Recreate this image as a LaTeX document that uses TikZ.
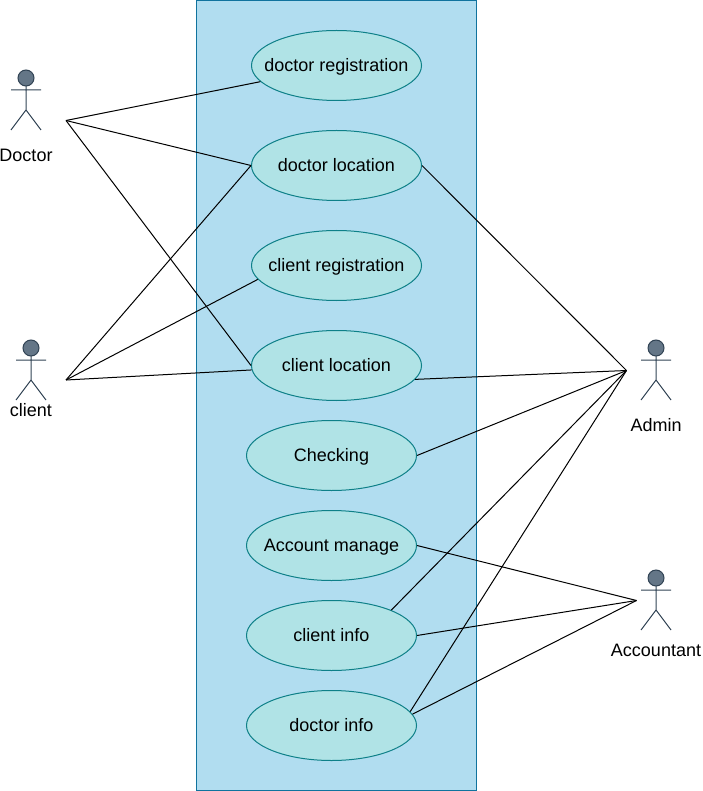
\documentclass[tikz,border=0pt]{standalone}
\usepackage{fontspec}
\setmainfont{Liberation Sans}
\usepackage{xcolor}
\usetikzlibrary{shapes.geometric}
\definecolor{boxfill}{HTML}{B1DDF0}
\definecolor{boxline}{HTML}{10739E}
\definecolor{casefill}{HTML}{B0E3E6}
\definecolor{caseline}{HTML}{0E8088}
\definecolor{actorfill}{HTML}{647687}
\definecolor{actorline}{HTML}{314354}
\tikzset{
  usecase/.style={ellipse,draw=caseline,fill=casefill,line width=0.75pt,
    minimum width=127.5pt,minimum height=52.5pt,inner sep=0pt,text height=11pt,text depth=2.5pt},
  actorlabel/.style={inner sep=0pt},
  actorbody/.style={draw=actorline,line width=0.75pt},
  link/.style={black,line width=0.75pt}
}

\begin{document}
\begin{tikzpicture}[x=0.75pt,y=-0.75pt,font=\fontsize{13.5}{16}\selectfont]
  \useasboundingbox (0,0) rectangle (702,791);
  \filldraw[fill=boxfill,draw=boxline,line width=0.75pt] (196.5,0.5) rectangle (476.5,790.5);
  % use cases
  \foreach \nm/\x/\y/\lab in {docreg/336.5/65.5/doctor registration,docloc/336.5/165.5/doctor location,
      clireg/336.5/265.5/client registration,cliloc/336.5/365.5/client location,
      checking/331.5/455.5/Checking,account/331.5/545.5/Account manage,
      cliinfo/331.5/635.5/client info,docinfo/331.5/725.5/doctor info}{
     \node[usecase] (\nm) at (\x,\y) {\makebox[0pt]{\lab}};
  }
  % actors
  \foreach \nm/\x/\y/\lab/\ly in {doctor/26/70/Doctor/155,client/31/340/client/410,
      admin/656/340/Admin/425,accountant/656/570/Accountant/650}{
     \filldraw[actorbody,fill=actorfill] (\x,\y+8) circle (8);
     \draw[actorbody] (\x,\y+16) -- (\x,\y+40) (\x-15,\y+20) -- (\x+15,\y+20)
        (\x-15,\y+60) -- (\x,\y+40) -- (\x+15,\y+60);
     \node[actorlabel] (\nm) at (\x,\ly) {\lab};
  }
  \coordinate (dochand) at (66,120.5);
  \coordinate (clihand) at (66,380);
  \coordinate (admhand) at (626.5,370.5);
  \coordinate (acchand) at (636.5,600.5);
  % connectors
  \foreach \a/\b in {dochand/docreg.192,dochand/docloc.west,dochand/cliloc.west,
      clihand/docloc.west,clihand/clireg.190,clihand/cliloc.183,
      admhand/docloc.east,admhand/cliloc.-10,admhand/checking.east,
      admhand/cliinfo.23,admhand/docinfo.10.5,
      acchand/account.east,acchand/cliinfo.east,acchand/docinfo.8.5}{
     \draw[link] (\a) -- (\b);
  }
\end{tikzpicture}
\end{document}
